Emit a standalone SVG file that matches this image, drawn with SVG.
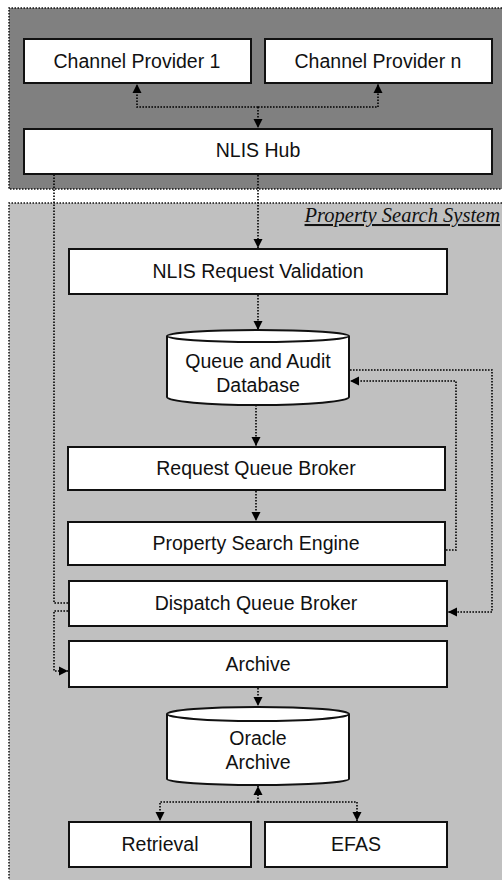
<svg xmlns="http://www.w3.org/2000/svg" width="502" height="880" viewBox="0 0 502 880">
<defs>
<style>
.box{fill:#fff;stroke:#111;stroke-width:2}
.lbl{font-family:"Liberation Sans",Arial,sans-serif;font-size:19.5px;fill:#111;text-anchor:middle}
.con{fill:none;stroke:#000;stroke-width:1.6;stroke-dasharray:1.6 1.4}
.border{fill:none;stroke:#111;stroke-width:1.5;stroke-dasharray:1.5 1.5}
</style>
<marker id="arr" markerUnits="userSpaceOnUse" viewBox="0 0 10 10" refX="10" refY="5" markerWidth="9" markerHeight="10" orient="auto">
<path d="M0,0 L10,5 L0,10 Z" fill="#000"/>
</marker>
</defs>
<rect x="0" y="0" width="502" height="880" fill="#fff"/>
<g id="panel-top">
<rect x="9" y="8" width="500" height="181" fill="#808080"/>
<path class="border" d="M502,8 H9 V189 H502"/>
</g>
<g id="panel-pss">
<rect x="9" y="203" width="500" height="690" fill="#c0c0c0"/>
<path class="border" d="M502,203 H9 V880"/>
<text x="500" y="222" font-family="Liberation Serif,'Times New Roman',serif" font-style="italic" font-size="20.5" fill="#111" text-anchor="end" text-decoration="underline">Property Search System</text>
</g>
<g id="connectors">
<path class="con" d="M258,107 H137 V84" marker-end="url(#arr)"/>
<path class="con" d="M258,107 H378 V84" marker-end="url(#arr)"/>
<path class="con" d="M258,107 V128" marker-end="url(#arr)"/>
<path class="con" d="M258,175 V248" marker-end="url(#arr)"/>
<path class="con" d="M258,295 V330" marker-end="url(#arr)"/>
<path class="con" d="M256,405 V446" marker-end="url(#arr)"/>
<path class="con" d="M256,491 V521" marker-end="url(#arr)"/>
<path class="con" d="M446,550 H456 V381 H350" marker-end="url(#arr)"/>
<path class="con" d="M350,370 H492 V612 H448" marker-end="url(#arr)"/>
<path class="con" d="M68,603 H54 V162" marker-end="url(#arr)"/>
<path class="con" d="M68,611 H54 V671 H68" marker-end="url(#arr)"/>
<path class="con" d="M258,688 V706" marker-end="url(#arr)"/>
<path class="con" d="M258,802 V786" marker-end="url(#arr)"/>
<path class="con" d="M258,802 H160 V821" marker-end="url(#arr)"/>
<path class="con" d="M258,802 H357 V821" marker-end="url(#arr)"/>
</g>
<g id="channel-provider-1">
<rect class="box" x="24" y="39" width="227" height="44"/>
<text class="lbl" x="137" y="68">Channel Provider 1</text>
</g>
<g id="channel-provider-n">
<rect class="box" x="265" y="39" width="227" height="44"/>
<text class="lbl" x="378" y="68">Channel Provider n</text>
</g>
<g id="nlis-hub">
<rect class="box" x="24" y="129" width="468" height="45"/>
<text class="lbl" x="258" y="157">NLIS Hub</text>
</g>
<g id="nlis-request-validation">
<rect class="box" x="69" y="249" width="378" height="45"/>
<text class="lbl" x="258" y="278">NLIS Request Validation</text>
</g>
<g id="queue-audit-db">
<path class="box" d="M167,336 A91,6 0 0 1 349,336 V397 A91,8 0 0 1 167,397 Z"/>
<path fill="none" stroke="#111" stroke-width="2" d="M167,336 A91,6 0 0 0 349,336"/>
<text class="lbl" x="258" y="368">Queue and Audit</text>
<text class="lbl" x="258" y="392">Database</text>
</g>
<g id="request-queue-broker">
<rect class="box" x="68" y="447" width="377" height="43"/>
<text class="lbl" x="256" y="475">Request Queue Broker</text>
</g>
<g id="property-search-engine">
<rect class="box" x="68" y="522" width="377" height="43"/>
<text class="lbl" x="256" y="550">Property Search Engine</text>
</g>
<g id="dispatch-queue-broker">
<rect class="box" x="69" y="581" width="378" height="45"/>
<text class="lbl" x="256" y="610">Dispatch Queue Broker</text>
</g>
<g id="archive">
<rect class="box" x="69" y="641" width="378" height="46"/>
<text class="lbl" x="258" y="671">Archive</text>
</g>
<g id="oracle-archive">
<path class="box" d="M167,714 A91,7 0 0 1 349,714 V779 A91,6 0 0 1 167,779 Z"/>
<path fill="none" stroke="#111" stroke-width="2" d="M167,714 A91,7 0 0 0 349,714"/>
<text class="lbl" x="258" y="745">Oracle</text>
<text class="lbl" x="258" y="769">Archive</text>
</g>
<g id="retrieval">
<rect class="box" x="69" y="822" width="182" height="45"/>
<text class="lbl" x="160" y="851">Retrieval</text>
</g>
<g id="efas">
<rect class="box" x="265" y="822" width="182" height="45"/>
<text class="lbl" x="356" y="851">EFAS</text>
</g>
</svg>
